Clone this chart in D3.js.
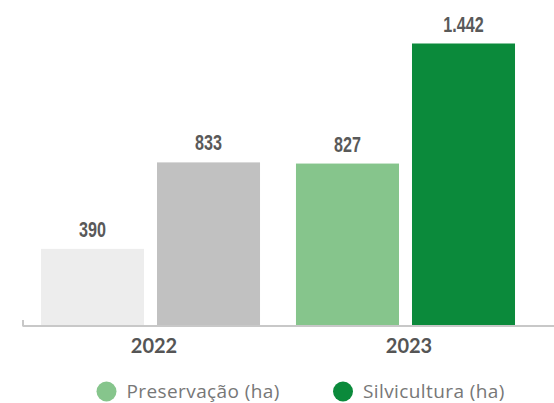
<!DOCTYPE html>
<html>
<head>
<meta charset="utf-8">
<script src="https://cdn.jsdelivr.net/npm/d3@7"></script>
<style>
  html, body { margin: 0; padding: 0; background: #fff; }
  svg { display: block; }
</style>
</head>
<body>
<svg id="chart" width="554" height="403"></svg>
<script>
// Área em hectares por ano
const years = ["2022", "2023"];
const series = ["Preservação (ha)", "Silvicultura (ha)"];
const preservacao = [390, 827];
const silvicultura = [833, 1442];
const valueLabels = [["390", "833"], ["827", "1.442"]];
const barColors = [["#ededed", "#c1c1c1"], ["#86c58c", "#0b8a3b"]];
const legendColors = ["#86c58c", "#0b8a3b"];

const svg = d3.select("#chart");

const baseline = 325;
const x0 = d3.scaleBand()
  .domain(years)
  .range([22.5, 533.5])
  .paddingInner(0.141)
  .paddingOuter(0.0725);

const x1 = d3.scaleBand()
  .domain(series)
  .range([0, x0.bandwidth()])
  .paddingInner(0.112);

const y = d3.scaleLinear()
  .domain([0, 1442])
  .range([baseline, 43.5]);

const rows = years.map((yr, i) => ({
  year: yr,
  values: [preservacao[i], silvicultura[i]].map((v, j) => ({
    key: series[j], value: v, label: valueLabels[i][j], color: barColors[i][j]
  }))
}));

const groups = svg.selectAll("g.year")
  .data(rows)
  .join("g")
  .attr("class", "year")
  .attr("transform", d => `translate(${x0(d.year)},0)`);

groups.selectAll("rect")
  .data(d => d.values)
  .join("rect")
  .attr("x", d => x1(d.key))
  .attr("y", d => y(d.value))
  .attr("width", x1.bandwidth())
  .attr("height", d => baseline - y(d.value))
  .attr("fill", d => d.color);

// Rótulos de valor em fonte estreita (compressão horizontal)
groups.selectAll("text.val")
  .data(d => d.values)
  .join("text")
  .attr("class", "val")
  .attr("transform", d =>
    `translate(${x1(d.key) + x1.bandwidth() / 2},${y(d.value) - 12}) scale(0.75,1)`)
  .attr("text-anchor", "middle")
  .attr("font-family", "'Liberation Sans', Arial, sans-serif")
  .attr("font-weight", "bold")
  .attr("font-size", 21.5)
  .attr("fill", "#595959")
  .text(d => d.label);

// Eixo horizontal
const xAxis = d3.axisBottom(x0).tickSize(0).tickPadding(13);
const axisG = svg.append("g")
  .attr("transform", `translate(0,${baseline + 1})`)
  .call(xAxis);
axisG.select(".domain").remove();
axisG.append("line")
  .attr("x1", 22.5).attr("x2", 554)
  .attr("y1", 0).attr("y2", 0)
  .attr("stroke", "#c8c8c8").attr("stroke-width", 2);
axisG.append("line")
  .attr("x1", 23).attr("x2", 23)
  .attr("y1", -6).attr("y2", 0)
  .attr("stroke", "#c8c8c8").attr("stroke-width", 2);
axisG.selectAll(".tick text")
  .attr("dx", 3.5)
  .attr("font-family", "Lato, 'Open Sans', sans-serif")
  .attr("font-weight", "bold")
  .attr("font-size", 20)
  .attr("fill", "#555");

// Legenda
const legendX = [106.5, 343];
const legend = svg.selectAll("g.legend")
  .data(series)
  .join("g")
  .attr("class", "legend")
  .attr("transform", (d, i) => `translate(${legendX[i]},391.5)`);
legend.append("circle")
  .attr("r", 10)
  .attr("fill", (d, i) => legendColors[i]);
legend.append("text")
  .attr("x", 20)
  .attr("y", 6.5)
  .attr("font-family", "'Open Sans', sans-serif")
  .attr("font-size", 19)
  .attr("letter-spacing", 0.4)
  .attr("fill", "#777")
  .text(d => d);
</script>
</body>
</html>
